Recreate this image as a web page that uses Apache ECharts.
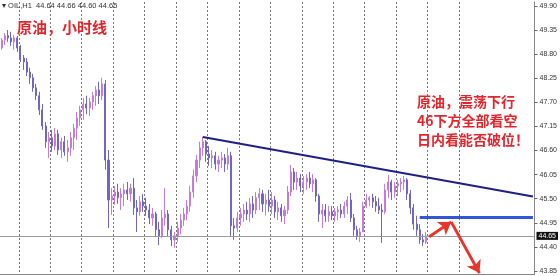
<!DOCTYPE html>
<html>
<head>
<meta charset="utf-8">
<script src="https://cdn.jsdelivr.net/npm/echarts@6/dist/echarts.min.js"></script>
<style>html,body{margin:0;padding:0;background:#fff}#c{width:560px;height:276px}</style>
</head>
<body>
<div id="c"></div>
<script>
// ---- data (OIL, H1) ----
const slotCount = 170; // hourly slots on the time axis (data fills the first part)
const categories = Array.from({length: slotCount}, (_, i) => 'H' + i);
const opens = [48.94,49.12,49.22,49.17,49.08,49.17,48.94,48.71,48.62,48.39,
48.26,48.03,47.85,47.53,47.16,46.80,46.89,46.70,46.98,46.61,
46.80,46.57,46.66,46.89,47.11,47.34,47.53,47.66,47.57,47.71,
47.85,47.98,47.85,48.12,46.38,45.47,45.56,45.65,45.52,45.61,
45.70,45.61,45.74,45.29,45.20,45.43,45.33,45.24,45.06,45.15,
44.79,44.65,45.06,45.15,44.79,44.56,44.65,44.83,45.01,45.15,
45.33,45.65,46.02,46.38,46.66,46.80,46.52,46.43,46.48,46.29,
46.38,46.43,46.29,46.48,44.88,44.83,45.06,45.15,45.24,45.15,
45.38,45.24,45.52,45.61,45.38,45.47,45.33,45.47,45.20,45.29,
45.11,45.24,45.65,46.11,45.88,45.97,45.79,45.88,45.97,45.84,
45.93,45.56,45.15,45.24,45.11,45.20,45.11,45.20,45.24,45.15,
45.33,45.47,45.06,44.79,44.65,44.74,45.33,45.47,45.52,45.43,
45.33,45.24,45.20,45.70,45.88,45.65,45.79,45.84,45.88,45.93,
45.61,45.29,44.92,44.79,44.56,44.51];
const closes = [49.12,49.22,49.17,49.08,49.17,48.94,48.71,48.62,48.39,48.26,
48.03,47.85,47.53,47.16,46.80,46.89,46.70,46.98,46.61,46.80,
46.57,46.66,46.89,47.11,47.34,47.53,47.66,47.57,47.71,47.85,
47.98,47.85,48.12,46.38,45.47,45.56,45.65,45.52,45.61,45.70,
45.61,45.74,45.29,45.20,45.43,45.33,45.24,45.06,45.15,44.79,
44.65,45.06,45.15,44.79,44.56,44.65,44.83,45.01,45.15,45.33,
45.65,46.02,46.38,46.66,46.80,46.52,46.43,46.48,46.29,46.38,
46.43,46.29,46.48,44.88,44.83,45.06,45.15,45.24,45.15,45.38,
45.24,45.52,45.61,45.38,45.47,45.33,45.47,45.20,45.29,45.11,
45.24,45.65,46.11,45.88,45.97,45.79,45.88,45.97,45.84,45.93,
45.56,45.15,45.24,45.11,45.20,45.11,45.20,45.24,45.15,45.33,
45.47,45.06,44.79,44.65,44.74,45.33,45.47,45.52,45.43,45.33,
45.24,45.20,45.70,45.88,45.65,45.79,45.84,45.88,45.93,45.61,
45.29,44.92,44.79,44.56,44.51,44.65];
const lows = [48.90,49.01,49.08,48.99,48.90,48.85,48.62,48.44,48.30,48.12,
47.94,47.75,47.41,47.07,46.66,46.43,46.57,46.61,46.50,46.43,
46.48,46.34,46.48,46.61,46.84,47.16,47.30,47.43,47.39,47.53,
47.62,47.66,47.75,46.16,44.83,45.13,45.36,45.38,45.24,45.33,
45.47,45.43,45.13,44.74,45.11,45.20,45.11,44.92,44.88,44.65,
44.44,44.60,44.88,44.65,44.42,44.38,44.51,44.69,44.88,45.01,
45.20,45.52,45.88,46.20,46.48,46.34,46.25,46.20,46.16,46.11,
46.20,46.11,46.16,44.65,44.56,44.74,44.88,44.97,45.01,44.97,
45.06,45.15,45.24,45.20,45.11,45.20,45.15,45.06,45.01,44.97,
44.92,45.15,45.56,45.70,45.70,45.65,45.61,45.70,45.74,45.65,
45.43,44.97,44.83,44.97,44.97,45.01,44.97,45.01,45.06,45.06,
45.15,44.97,44.65,44.56,44.51,44.74,45.29,45.33,45.29,45.20,
45.15,44.49,45.15,45.52,45.47,45.52,45.56,45.65,45.70,45.47,
45.15,44.79,44.65,44.47,44.42,44.47];
const highs = [49.17,49.28,49.35,49.31,49.24,49.22,49.01,48.78,48.71,48.49,
48.35,48.12,47.94,47.66,47.25,47.02,47.07,47.11,47.07,46.89,
46.93,46.84,47.02,47.21,47.48,47.62,47.80,47.85,47.80,47.94,
48.07,48.17,48.26,48.21,46.61,45.74,45.79,45.84,45.74,45.84,
45.88,45.84,45.97,45.47,45.56,45.61,45.52,45.38,45.29,45.20,
44.97,45.24,45.74,45.24,44.88,44.74,44.97,45.15,45.29,45.47,
45.79,46.16,46.50,46.80,46.91,46.84,46.70,46.61,46.57,46.48,
46.57,46.52,46.66,46.57,45.06,45.20,45.29,45.38,45.43,45.52,
45.56,45.65,45.74,45.70,45.61,45.70,45.65,45.56,45.43,45.38,
45.33,45.79,46.27,46.20,46.11,46.06,46.02,46.06,46.11,46.06,
45.97,45.61,45.38,45.38,45.33,45.33,45.29,45.33,45.38,45.43,
45.56,45.63,45.15,44.88,44.83,45.43,45.61,45.56,45.61,45.56,
45.52,45.38,45.84,46.04,45.93,45.88,45.93,45.97,46.02,45.97,
45.70,45.38,45.11,44.92,44.69,44.74];
const priceTicks = [43.85,44.40,44.95,45.50,46.05,46.60,47.15,47.70,48.25,48.80,49.35,49.90];
const headerValues = ['44.64','44.66','44.60','44.65'];
const currentPrice = 44.65;
// annotation anchors [slot index, price]
const trendLine = [[64, 46.91], [169, 45.55]];
const supportLine = [[133, 45.08], [169, 45.08]];
const arrowUp = [[136, 44.63], [143, 44.97]];
const arrowDown = [[143, 44.97], [152, 43.80]];
const titleText = '原油，小时线';
const noteLines = ['原油，震荡下行', '46下方全部看空', '日内看能否破位！'];

const candles = opens.map((o, i) => [o, closes[i], lows[i], highs[i]]);

function seg(pair, color, width, withArrow) {
  return [
    {coord: pair[0], symbol: 'none', lineStyle: {color, width, type: 'solid'}},
    {coord: pair[1], symbol: withArrow ? 'arrow' : 'none', symbolSize: 12, lineStyle: {color, width, type: 'solid'}}
  ];
}
const cjk = '"Noto Sans CJK SC", sans-serif';
const red = '#e3262c';

const chart = echarts.init(document.getElementById('c'), null, {renderer: 'canvas'});
chart.setOption({
  animation: false,
  backgroundColor: '#ffffff',
  title: [
    {text: '▾ OIL,H1  ' + headerValues.join(' '), left: 2, top: 2, padding: 0,
      textStyle: {fontSize: 7.5, fontWeight: 'normal', color: '#333', fontFamily: 'Liberation Sans, sans-serif'}},
    {text: titleText, left: 17, top: 18, padding: 0,
      textStyle: {fontSize: 15, fontWeight: 'bold', color: red, fontFamily: cjk, lineHeight: 18}},
    {text: noteLines.join('\n'), left: 417, top: 92, padding: 0,
      textStyle: {fontSize: 14, fontWeight: 'bold', color: red, fontFamily: cjk, lineHeight: 19}}
  ],
  grid: {left: 0, right: 22, top: 2, bottom: 2, containLabel: false},
  xAxis: {
    type: 'category', data: categories, boundaryGap: true,
    axisLine: {show: true, lineStyle: {color: '#888', width: 1}},
    axisTick: {show: false}, axisLabel: {show: false},
    splitLine: {show: true,
      interval: (idx) => idx >= 6 && idx <= 146 && (idx - 6) % 10 === 0,
      lineStyle: {color: '#777', width: 1, type: [2, 2]}}
  },
  yAxis: {
    type: 'value', position: 'right', min: 43.78, max: 49.99, scale: true,
    axisLine: {show: true, lineStyle: {color: '#888', width: 1}},
    axisTick: {show: true, length: 3, customValues: priceTicks, lineStyle: {color: '#666'}},
    axisLabel: {show: true, customValues: priceTicks, margin: 5, fontSize: 7, color: '#333',
      fontFamily: 'Liberation Sans, sans-serif', formatter: (v) => v.toFixed(2)},
    splitLine: {show: false}
  },
  series: [
    {
      type: 'candlestick', data: candles, barMaxWidth: 2.4,
      itemStyle: {color: '#c47ade', color0: '#6f66c8', borderColor: '#c47ade', borderColor0: '#6f66c8', borderWidth: 1},
      markLine: {
        silent: true, symbol: 'none', animation: false,
        lineStyle: {color: '#9c9c9c', width: 1, type: 'solid'},
        label: {show: true, position: 'end', distance: 2, formatter: currentPrice.toFixed(2),
          backgroundColor: '#111', color: '#fff', fontSize: 7, padding: [1, 2, 0, 2],
          fontFamily: 'Liberation Sans, sans-serif'},
        data: [{yAxis: currentPrice}]
      }
    },
    {
      type: 'line', data: [], silent: true,
      markLine: {
        silent: true, animation: false, symbolSize: 12,
        label: {show: false},
        emphasis: {disabled: true},
        data: [
          seg(trendLine, '#1f1f8a', 2, false),
          seg(supportLine, '#3356d6', 3, false),
          seg(arrowUp, '#e8352b', 3, true),
          seg(arrowDown, '#e8352b', 3, true)
        ]
      }
    }
  ]
});
</script>
</body>
</html>
